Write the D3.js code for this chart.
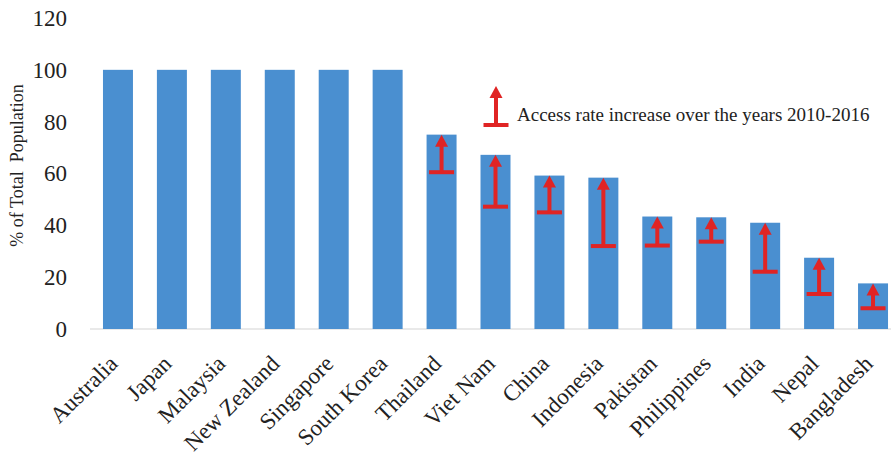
<!DOCTYPE html>
<html>
<head>
<meta charset="utf-8">
<script src="https://cdn.jsdelivr.net/npm/d3@7"></script>
<style>
  html, body { margin: 0; padding: 0; background: #fff; }
  svg { display: block; }
  text { font-family: "Liberation Serif", "Times New Roman", serif; fill: #222; }
</style>
</head>
<body>
<svg id="chart" width="891" height="458"></svg>
<script>
// Share of total population with access, by country
const countries = ["Australia", "Japan", "Malaysia", "New Zealand", "Singapore", "South Korea",
  "Thailand", "Viet Nam", "China", "Indonesia", "Pakistan", "Philippines", "India", "Nepal", "Bangladesh"];
// Access rate in 2016 (bar height)
const access2016 = [100, 100, 100, 100, 100, 100, 75, 67.2, 59.2, 58.4, 43.4, 43.1, 41, 27.5, 17.6];
// Access rate in 2010 (arrow start); null where no increase is shown
const access2010 = [null, null, null, null, null, null, 60.5, 47.2, 45, 32, 32.2, 33.7, 22.1, 13.5, 8];
const yTicks = [0, 20, 40, 60, 80, 100, 120];
const legendLabel = "Access rate increase over the years 2010-2016";
const yTitle = "% of Total  Population";

const barColor = "#4a8fd0";
const arrowColor = "#e02424";

const svg = d3.select("#chart");

const x = d3.scaleBand()
  .domain(countries)
  .range([91, 900])
  .paddingInner(0.444)
  .paddingOuter(0.222);

const y = d3.scaleLinear()
  .domain([0, 120])
  .range([329, 18]);

// baseline
svg.append("line")
  .attr("x1", 90).attr("x2", 891)
  .attr("y1", y(0)).attr("y2", y(0))
  .attr("stroke", "#d4d4d4").attr("stroke-width", 1.2);

// y-axis labels
const yAxis = d3.axisLeft(y).tickValues(yTicks).tickSize(0).tickPadding(0);
const gy = svg.append("g").attr("transform", "translate(67,0)").call(yAxis);
gy.select(".domain").remove();
gy.selectAll("text")
  .attr("font-family", "Liberation Serif, serif")
  .attr("font-size", 23)
  .attr("fill", "#222");

// y-axis title
svg.append("text")
  .attr("transform", `translate(23,${(88 + 243) / 2}) rotate(-90)`)
  .attr("text-anchor", "middle")
  .style("white-space", "pre")
  .attr("font-size", 18)
  .text(yTitle);

// bars
const rows = countries.map((c, i) => ({ country: c, v2016: access2016[i], v2010: access2010[i] }));

svg.append("g").selectAll("rect")
  .data(rows)
  .join("rect")
  .attr("x", d => x(d.country))
  .attr("width", x.bandwidth())
  .attr("y", d => y(d.v2016))
  .attr("height", d => y(0) - y(d.v2016))
  .attr("fill", barColor);

// increase arrow: a T-shaped foot at the start value and a head pointing up to the end value
function drawArrow(g, cx, yFrom, yTo) {
  const footW = 25, thick = 4, headW = 13, headH = 12;
  g.append("rect")
    .attr("x", cx - footW / 2).attr("y", yFrom - thick / 2)
    .attr("width", footW).attr("height", thick)
    .attr("fill", arrowColor);
  g.append("rect")
    .attr("x", cx - thick / 2).attr("y", yTo + headH - 1)
    .attr("width", thick).attr("height", yFrom - (yTo + headH - 1))
    .attr("fill", arrowColor);
  g.append("path")
    .attr("d", `M${cx},${yTo} L${cx + headW / 2},${yTo + headH} L${cx - headW / 2},${yTo + headH} Z`)
    .attr("fill", arrowColor);
}

const arrows = svg.append("g");
rows.filter(d => d.v2010 != null).forEach(d => {
  drawArrow(arrows, x(d.country) + x.bandwidth() / 2, y(d.v2010), y(d.v2016));
});

// legend
const legend = svg.append("g");
drawArrow(legend, 496, 125, 86);
legend.append("text")
  .attr("x", 517).attr("y", 121)
  .attr("font-size", 19)
  .text(legendLabel);

// category labels
svg.append("g").selectAll("text")
  .data(countries)
  .join("text")
  .attr("transform", d => `translate(${x(d) + x.bandwidth() / 2 + 1},${365}) rotate(-45)`)
  .attr("text-anchor", "end")
  .attr("font-size", 23)
  .text(d => d);
</script>
</body>
</html>
